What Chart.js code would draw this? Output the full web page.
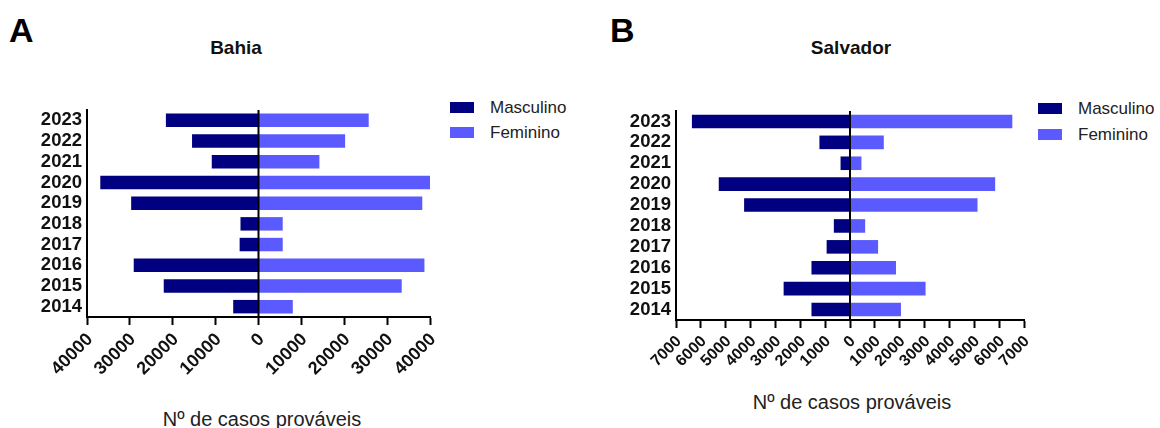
<!DOCTYPE html>
<html>
<head>
<meta charset="utf-8">
<script src="https://cdn.jsdelivr.net/npm/chart.js@4.4.0/dist/chart.umd.min.js"></script>
<style>
  html, body { margin: 0; padding: 0; background: #fff; }
  body { width: 1160px; height: 428px; position: relative; overflow: hidden;
         font-family: "Liberation Sans", Arial, sans-serif; color: #111; }
  .abs { position: absolute; white-space: nowrap; }
  .letter { font-size: 34px; font-weight: bold; line-height: 1; color: #000; }
  .title { font-size: 19px; font-weight: bold; line-height: 1; transform: translateX(-50%); }
  .xlabel { font-size: 20px; line-height: 1; transform: translateX(-50%); color: #222; }
  .legend { font-size: 17px; line-height: 1; color: #222; }
  .legend .row { position: absolute; left: 0; display: flex; align-items: center; }
  .legend .sw { width: 24px; height: 11px; margin-right: 16px; }
  canvas { position: absolute; }
</style>
</head>
<body>

<div class="abs letter" style="left:9px; top:13px;">A</div>
<div class="abs title" style="left:236px; top:38px;">Bahia</div>
<div class="abs letter" style="left:610px; top:13px;">B</div>
<div class="abs title" style="left:851px; top:38px;">Salvador</div>

<div class="abs legend" style="left:450px; top:99px;">
  <div class="row" style="top:0;"><span class="sw" style="background:#000080"></span>Masculino</div>
  <div class="row" style="top:25px;"><span class="sw" style="background:#5a5aff"></span>Feminino</div>
</div>
<div class="abs legend" style="left:1038px; top:100px;">
  <div class="row" style="top:0;"><span class="sw" style="background:#000080"></span>Masculino</div>
  <div class="row" style="top:26px;"><span class="sw" style="background:#5a5aff"></span>Feminino</div>
</div>

<div class="abs xlabel" style="left:262px; top:409px;">Nº de casos prováveis</div>
<div class="abs xlabel" style="left:852px; top:392px;">Nº de casos prováveis</div>

<canvas id="bahia" width="470" height="338" style="left:0; top:90px;"></canvas>
<canvas id="salvador" width="470" height="338" style="left:590px; top:90px;"></canvas>

<script>
// Years shown on the vertical axis (bottom to top)
const years = ['2014', '2015', '2016', '2017', '2018', '2019', '2020', '2021', '2022', '2023'];

// Probable cases by sex — Bahia
const bahiaMasculino = [5900, 22100, 29100, 4400, 4200, 29700, 36900, 10900, 15500, 21600];
const bahiaFeminino  = [8000, 33400, 38700, 5650, 5650, 38200, 40000, 14200, 20200, 25700];

// Probable cases by sex — Salvador
const salvadorMasculino = [1550, 2670, 1550, 940, 650, 4260, 5280, 380, 1230, 6360];
const salvadorFeminino  = [2050, 3040, 1850, 1130, 610, 5130, 5840, 460, 1360, 6530];

// Axis ranges and tick steps
const bahiaLimit = 40000, bahiaStep = 10000;
const salvadorLimit = 7000, salvadorStep = 1000;

const FONT = '"Liberation Sans", Arial, sans-serif';
const NAVY = '#000080';
const BLUE = '#5a5aff';

// Vertical black line at zero, drawn over the bars
const zeroLine = {
  id: 'zeroLine',
  afterDatasetsDraw(chart) {
    const { ctx, chartArea, scales } = chart;
    const x = scales.x.getPixelForValue(0);
    ctx.save();
    ctx.strokeStyle = '#000';
    ctx.lineWidth = 2;
    ctx.beginPath();
    ctx.moveTo(x, chartArea.top);
    ctx.lineTo(x, chartArea.bottom);
    ctx.stroke();
    ctx.restore();
  }
};

function pyramid(id, masc, fem, limit, step, cfg) {
  return new Chart(document.getElementById(id), {
    type: 'bar',
    data: {
      labels: years,
      datasets: [
        { label: 'Masculino', data: masc.map(v => -v), backgroundColor: NAVY,
          barPercentage: 0.65, categoryPercentage: 1.0 },
        { label: 'Feminino', data: fem, backgroundColor: BLUE,
          barPercentage: 0.65, categoryPercentage: 1.0 }
      ]
    },
    options: {
      indexAxis: 'y',
      responsive: false,
      animation: false,
      devicePixelRatio: 1,
      layout: { padding: { top: cfg.top, right: cfg.right, left: 0, bottom: 0 } },
      plugins: { legend: { display: false }, tooltip: { enabled: false } },
      scales: {
        x: {
          type: 'linear', stacked: true, min: -limit, max: limit,
          ticks: {
            stepSize: step, autoSkip: false, minRotation: 45, maxRotation: 45,
            padding: 4, labelOffset: 3, color: '#111',
            font: { family: FONT, size: cfg.tickSize, weight: 'bold' },
            callback: v => String(Math.abs(v))
          },
          grid: { drawOnChartArea: false, drawTicks: true, tickLength: 8,
                  tickWidth: 2, tickColor: '#000' },
          border: { display: true, color: '#000', width: 2 },
          afterFit: s => { s.height = cfg.xHeight; }
        },
        y: {
          type: 'category', stacked: true, reverse: true,
          ticks: { autoSkip: false, padding: 5, color: '#111',
                   font: { family: FONT, size: 18.5, weight: 'bold' } },
          grid: { display: false, drawTicks: false, tickLength: 0 },
          border: { display: true, color: '#000', width: 2 },
          afterFit: s => { s.width = cfg.yWidth; }
        }
      }
    },
    plugins: [zeroLine]
  });
}

pyramid('bahia', bahiaMasculino, bahiaFeminino, bahiaLimit, bahiaStep,
        { top: 20, right: 40, xHeight: 111, yWidth: 87, tickSize: 18 });
pyramid('salvador', salvadorMasculino, salvadorFeminino, salvadorLimit, salvadorStep,
        { top: 21, right: 36, xHeight: 108, yWidth: 86, tickSize: 16 });
</script>
</body>
</html>
